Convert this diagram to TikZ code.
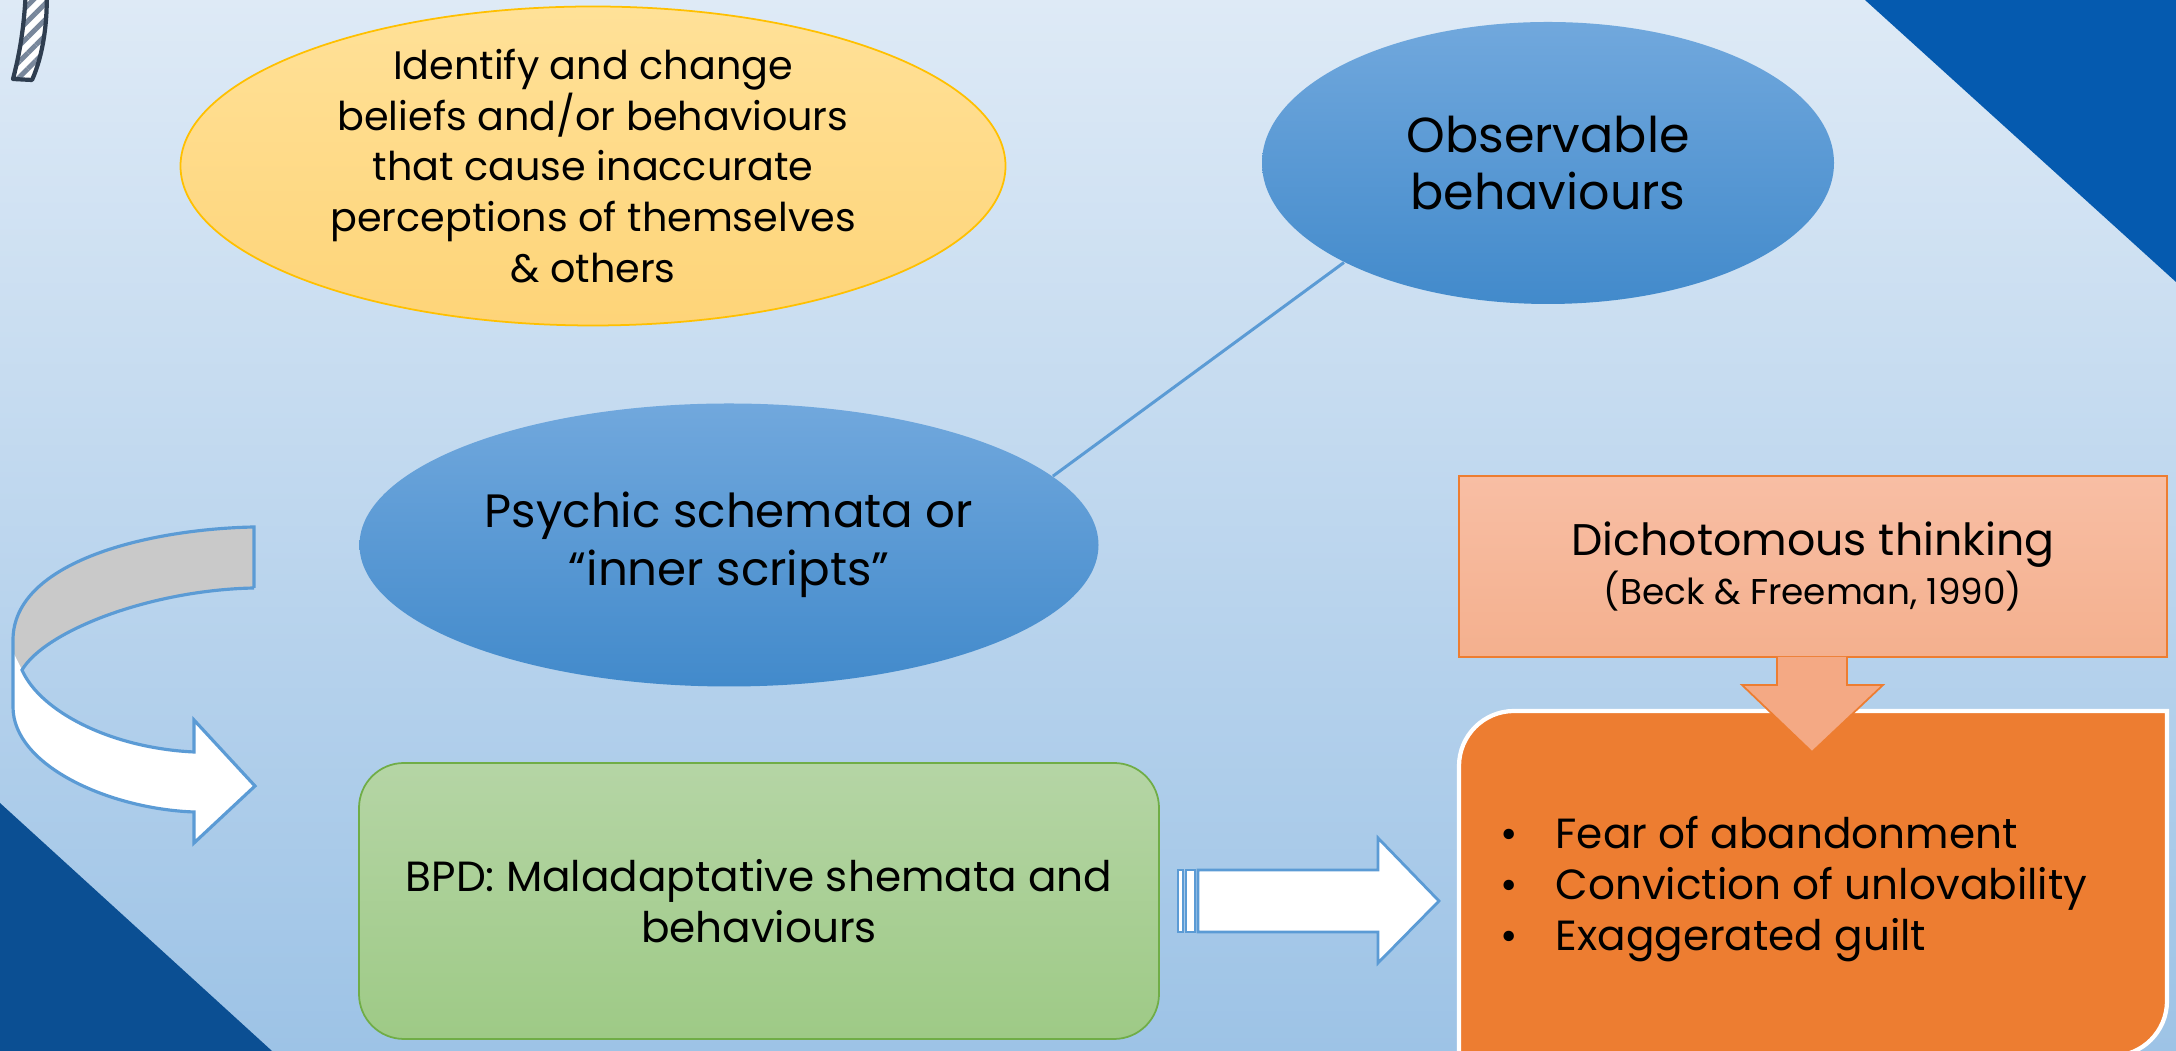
\documentclass[tikz,border=0pt]{standalone}
\usepackage{fontspec}
\setmainfont{Poppins}
\usepackage{tikz}
\usetikzlibrary{positioning,shapes.geometric,patterns.meta}

\definecolor{bgtop}{RGB}{222,234,246}
\definecolor{bgbot}{RGB}{157,195,230}
\definecolor{navy}{RGB}{5,90,175}
\definecolor{navydark}{RGB}{11,79,147}
\definecolor{goldtop}{RGB}{255,225,152}
\definecolor{goldbot}{RGB}{254,212,120}
\definecolor{goldline}{RGB}{255,192,0}
\definecolor{skytop}{RGB}{113,168,221}
\definecolor{skybot}{RGB}{66,138,203}
\definecolor{linkblue}{RGB}{91,155,213}
\definecolor{leaftop}{RGB}{181,213,165}
\definecolor{leafbot}{RGB}{158,202,134}
\definecolor{leafline}{RGB}{112,173,71}
\definecolor{peachtop}{RGB}{248,190,164}
\definecolor{peachbot}{RGB}{244,176,142}
\definecolor{peacharrow}{RGB}{244,169,132}
\definecolor{rust}{RGB}{237,125,49}
\definecolor{ribbon}{RGB}{201,201,201}
\definecolor{slate}{RGB}{47,62,80}
\definecolor{stripe}{RGB}{120,135,155}

\begin{document}
\begin{tikzpicture}[
  goal/.style={ellipse, inner sep=0pt, draw=goldline, line width=0.5pt,
    top color=goldtop, bottom color=goldbot},
  bubble/.style={ellipse, inner sep=0pt, top color=skytop, bottom color=skybot},
  bpdbox/.style={rectangle, rounded corners=0.45cm, draw=leafline, line width=0.5pt,
    top color=leaftop, bottom color=leafbot, minimum width=8cm, minimum height=2.76cm,
    align=center, font=\fontsize{12}{14.7}\selectfont},
  dichobox/.style={rectangle, draw=rust, line width=0.6pt, top color=peachtop,
    bottom color=peachbot, minimum width=7.08cm, minimum height=1.81cm, align=center},
  link/.style={draw=linkblue, line width=0.85pt},
  blockarrow/.style={draw=linkblue, line width=0.8pt, fill=white, line join=miter},
]
\useasboundingbox (0,0) rectangle (21.76,10.51);
% background and corner triangles
\fill[top color=bgtop, bottom color=bgbot] (0,0) rectangle (21.76,10.51);
\fill[navy] (18.65,10.51) -- (21.76,10.51) -- (21.76,7.69) -- cycle;
\fill[navydark] (0,0) -- (0,2.48) -- (2.72,0) -- cycle;
% striped tail, top left
\draw[slate, line width=1.2pt, line join=round, preaction={fill=white},
  pattern={Lines[angle=45,distance=3.2pt,line width=1.4pt]}, pattern color=stripe]
  (0.26,10.62) .. controls (0.24,10.2) and (0.19,9.95) .. (0.13,9.72)
  -- (0.32,9.71) .. controls (0.43,9.95) and (0.48,10.3) .. (0.465,10.62);
%----------------------------------
\node[goal, minimum width=8.25cm, minimum height=3.19cm] (goal) at (5.93,8.85) {};
\node[align=center, font=\fontsize{11.3}{14.4}\selectfont] (goaltxt) at (goal)
  {Identify and change\\beliefs and/or behaviours\\that cause inaccurate\\perceptions of themselves\\\& others};
\node[bubble, minimum width=5.72cm, minimum height=2.82cm] (obs) at (15.48,8.88) {};
\node[align=center, font=\fontsize{14}{16}\selectfont] (obstxt) at (obs) {Observable\\behaviours};
\node[bubble, minimum width=7.39cm, minimum height=2.83cm] (psy) at (7.29,5.06) {};
\node[align=center, font=\fontsize{13.3}{16.5}\selectfont] (psytxt) at (psy) {Psychic schemata or\\“inner scripts”};
\draw[link] (psy.12) -- (obs.206);
%----------------------------------
% curved arrow, left
\fill[ribbon] (2.54,5.24) .. controls (1.5,5.22) and (0.13,4.9) .. (0.13,4.11)
  -- (0.13,3.99) -- (0.22,3.81) .. controls (0.45,4.2) and (1.5,4.61) .. (2.54,4.63) -- cycle;
\fill[white] (0.13,3.99) -- (0.13,3.44) .. controls (0.13,2.85) and (1.1,2.42) .. (1.94,2.39)
  -- (1.94,2.08) -- (2.55,2.65) -- (1.94,3.31) -- (1.94,2.99)
  .. controls (1.1,3.03) and (0.4,3.4) .. (0.22,3.81) -- cycle;
\draw[linkblue, line width=0.9pt, line join=miter]
  (2.54,4.63) -- (2.54,5.24) .. controls (1.5,5.22) and (0.13,4.9) .. (0.13,4.11)
  -- (0.13,3.44) .. controls (0.13,2.85) and (1.1,2.42) .. (1.94,2.39)
  -- (1.94,2.08) -- (2.55,2.65) -- (1.94,3.31) -- (1.94,2.99)
  .. controls (1.1,3.03) and (0.4,3.4) .. (0.22,3.81)
  .. controls (0.45,4.2) and (1.5,4.61) .. (2.54,4.63);
%----------------------------------
\node[bpdbox] (bpd) at (7.59,1.50) {BPD: Maladaptative shemata and\\behaviours};
\node[dichobox] (dicho) at (18.13,4.845)
  {\fontsize{12.6}{13.4}\selectfont Dichotomous thinking\\
   \fontsize{10.2}{13.4}\selectfont (Beck \& Freeman, 1990)};
% orange box
\draw[white, line width=1.2pt, fill=rust] (14.59,-0.05) -- (14.59,2.85)
  arc[start angle=180, end angle=90, radius=0.55] -- (21.67,3.40) -- (21.67,0.50)
  arc[start angle=0, end angle=-90, radius=0.55] -- cycle;
\node[align=left, anchor=west, inner sep=0pt, font=\fontsize{12}{14.5}\selectfont] (fears) at (15.0,1.62)
  {\makebox[0.55cm][l]{\textbullet}Fear of abandonment\\
   \makebox[0.55cm][l]{\textbullet}Conviction of unlovability\\
   \makebox[0.55cm][l]{\textbullet}Exaggerated guilt};
% down arrow
\fill[peacharrow] (17.77,3.94) -- (17.77,3.66) -- (17.42,3.66) -- (18.12,2.99)
  -- (18.83,3.66) -- (18.47,3.66) -- (18.47,3.94) -- cycle;
\draw[rust, line width=0.5pt] (17.77,3.94) -- (17.77,3.66) -- (17.42,3.66) -- (18.12,2.99)
  -- (18.83,3.66) -- (18.47,3.66) -- (18.47,3.94);
% striped right arrow
\draw[blockarrow] (11.78,1.19) rectangle (11.83,1.81);
\draw[blockarrow] (11.86,1.19) rectangle (11.95,1.81);
\draw[blockarrow] (11.98,1.19) -- (11.98,1.81) -- (13.78,1.81) -- (13.78,2.13)
  -- (14.39,1.50) -- (13.78,0.88) -- (13.78,1.19) -- cycle;
\end{tikzpicture}
\end{document}
